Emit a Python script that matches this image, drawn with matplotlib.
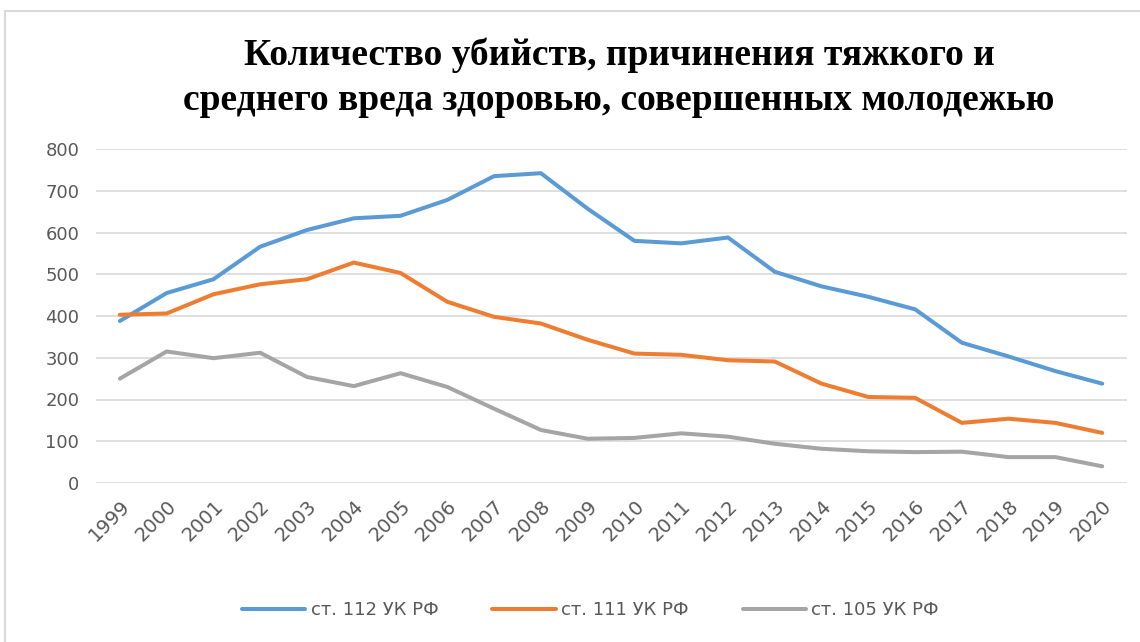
import matplotlib.pyplot as plt
from matplotlib.patches import Rectangle

years = [str(y) for y in range(1999, 2021)]
art112 = [388, 455, 488, 566, 606, 634, 640, 678, 735, 742, 657, 580,
          574, 588, 506, 471, 446, 416, 336, 303, 268, 238]
art111 = [403, 406, 452, 476, 488, 528, 503, 434, 398, 382, 343, 310,
          307, 294, 291, 238, 206, 204, 144, 154, 144, 120]
art105 = [250, 315, 299, 312, 254, 232, 263, 230, 178, 127, 106, 108,
          119, 111, 94, 82, 76, 74, 75, 62, 62, 40]
labels = ["ст. 112 УК РФ", "ст. 111 УК РФ", "ст. 105 УК РФ"]
colors = ["#5B9BD5", "#ED7D31", "#A5A5A5"]

fig = plt.figure(figsize=(11.4, 6.42), dpi=100)
ax = fig.add_axes([96 / 1140, 1 - 483 / 642, (1127 - 96) / 1140, (483 - 149) / 642])

# chart frame like in the office export
fig.patches.append(Rectangle((5 / 1140, -0.05), 1.1, 1 - 11 / 642 + 0.05,
                             transform=fig.transFigure, fill=False,
                             edgecolor="#D9D9D9", linewidth=1.5))

x = range(len(years))
for vals, lab, col in zip([art112, art111, art105], labels, colors):
    ax.plot(x, vals, color=col, linewidth=2.9, label=lab, solid_capstyle="round")

ax.set_xlim(-0.51, len(years) - 0.47)
ax.set_ylim(0, 800)
ax.set_yticks(range(0, 801, 100))
ax.set_xticks(list(x))
ax.set_xticklabels(years, rotation=45, ha="right", rotation_mode="anchor")
ax.tick_params(axis="both", length=0, labelsize=13, labelcolor="#595959")
ax.tick_params(axis="x", pad=10, labelsize=14)
ax.tick_params(axis="y", pad=12)
ax.grid(axis="y", color="#D9D9D9", linewidth=1.2)
ax.set_axisbelow(True)
for s in ax.spines.values():
    s.set_visible(False)

fig.text(0.543, 1 - 55 / 642, "Количество убийств, причинения тяжкого и",
         ha="center", va="center", fontsize=27, fontweight="bold",
         family="Liberation Serif")
fig.text(0.543, 1 - 100 / 642, "среднего вреда здоровью, совершенных молодежью",
         ha="center", va="center", fontsize=27, fontweight="bold",
         family="Liberation Serif")

fig.legend(loc="center", bbox_to_anchor=(0.518, 1 - 610 / 642), ncol=3,
           frameon=False, fontsize=13, labelcolor="#595959",
           handlelength=3.5, columnspacing=3, handletextpad=0.3)

fig.savefig("out.png", dpi=100)
